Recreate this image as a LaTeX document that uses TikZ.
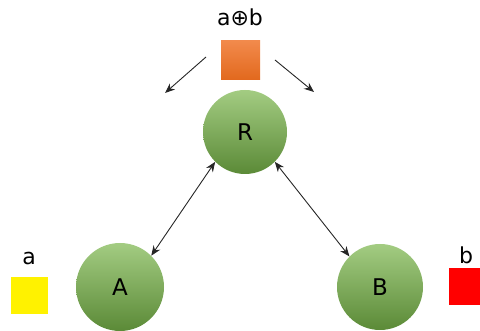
\documentclass[tikz,border=0pt]{standalone}
\usepackage{fontspec}
\setmainfont{DejaVu Sans}
\usepackage{tikz}
\usetikzlibrary{positioning, shapes.geometric, arrows, arrows.meta}
\definecolor{ballTop}{HTML}{A3CC82}
\definecolor{ballBot}{HTML}{5B8A37}
\definecolor{xorTop}{HTML}{F28A4C}
\definecolor{xorBot}{HTML}{E2691E}
\tikzset{
  ball/.style={circle, top color=ballTop, bottom color=ballBot, inner sep=0pt, font=\fontsize{23}{27}\selectfont},
  bit/.style={rectangle, inner sep=0pt},
  lbl/.style={font=\fontsize{22}{26}\selectfont},
  link/.style={line width=0.9pt, black!85},
}

\begin{document}
\begin{tikzpicture}[x=1pt, y=1pt, >={Stealth[length=10pt, width=8pt]}]
            \useasboundingbox (0, 0) rectangle (480, 331);

            \node[ball, minimum size=84pt] (R) at (245, 199) {R};
            \node[ball, minimum size=88pt] (A) at (120, 44) {A};
            \node[ball, minimum size=86pt] (B) at (380, 44) {B};

            \node[bit, minimum size=39pt, top color=xorTop, bottom color=xorBot] (xor) at (240.5, 271) {};
            \node[bit, minimum size=37pt, fill=yellow] (bitA) at (29, 35) {};
            \node[bit, minimum size=37pt, fill=red] (bitB) at (467.5, 44) {};

            \node[lbl] (xorLbl) at (240, 314) {a⊕b};
            \node[lbl] (aLbl) at (29, 72) {a};
            \node[lbl] (bLbl) at (466, 76) {b};

            \coordinate (xl) at (206, 274);
            \coordinate (xlEnd) at (165, 238);
            \coordinate (xr) at (275, 271);
            \coordinate (xrEnd) at (314, 239);

            \draw [->, link] (xl) -- (xlEnd);
            \draw [->, link] (xr) -- (xrEnd);
            \draw [<->, link] (R.225) -- (A.45);
            \draw [<->, link] (R.315) -- (B.135);
        \end{tikzpicture}
\end{document}
